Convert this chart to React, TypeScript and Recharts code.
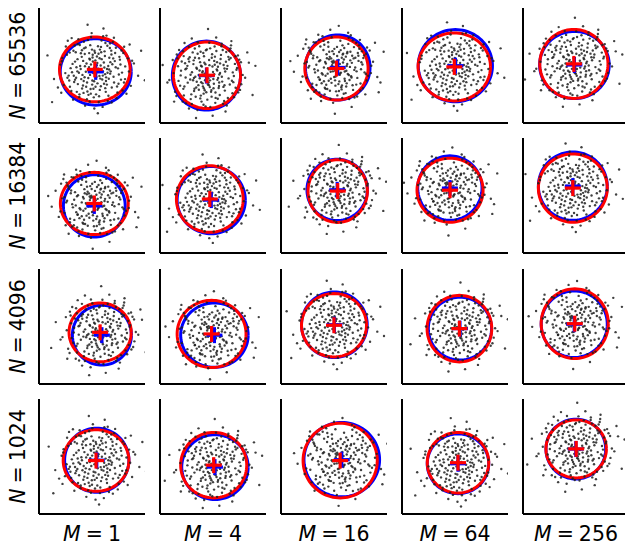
import { ComposedChart, Line, Scatter, XAxis, YAxis } from "recharts";

// grid labels
const M_VALUES = ["1", "4", "16", "64", "256"];
const N_VALUES = ["65536", "16384", "4096", "1024"];

// per panel (row-major, 4 rows x 5 cols): estimated ellipse (red) and true ellipse (blue)
const RED_CX = [0.16, -0.34, 0.14, -0.04, -0.12, 0.13, -0.18, 0.21, -0.28, -0.18, 0.46, -0.08, 0.0, 0.25, -0.07, 0.23, 0.04, 0.35, 0.17, 0.01];
const RED_CY = [-0.22, -0.55, -0.17, -0.08, 0.09, -0.45, -0.2, 0.25, 0.3, 0.42, -0.33, -0.42, 0.07, -0.12, 0.16, -0.23, -0.49, -0.23, -0.35, 0.43];
const RED_RX = [2.0, 1.9, 1.79, 2.05, 1.93, 1.92, 1.89, 1.68, 1.87, 1.95, 1.76, 1.95, 1.84, 1.83, 1.9, 1.86, 1.87, 2.1, 1.74, 1.71];
const RED_RY = [1.83, 1.88, 1.78, 1.92, 1.95, 1.76, 1.88, 1.77, 1.81, 1.93, 1.66, 1.9, 1.79, 1.88, 1.97, 1.74, 1.85, 2.11, 1.71, 1.64];
const BLUE_CX = [0.21, -0.37, 0.21, 0.02, -0.09, 0.13, -0.1, 0.18, -0.29, -0.18, 0.56, 0.08, 0.02, 0.28, -0.1, 0.27, 0.11, 0.44, 0.17, -0.01];
const BLUE_CY = [-0.36, -0.57, -0.11, -0.01, 0.03, -0.59, -0.26, 0.32, 0.42, 0.53, -0.49, -0.49, 0.1, -0.12, 0.13, -0.21, -0.6, -0.18, -0.41, 0.42];
const BLUE_RX = [2.01, 1.93, 1.83, 2.1, 1.97, 1.75, 1.93, 1.71, 1.82, 1.95, 1.67, 1.91, 1.86, 1.79, 1.87, 1.82, 1.88, 2.14, 1.74, 1.69];
const BLUE_RY = [1.88, 1.95, 1.84, 2.04, 1.9, 1.76, 1.9, 1.73, 1.82, 1.93, 1.69, 1.82, 1.85, 1.78, 1.88, 1.81, 1.83, 2.1, 1.69, 1.69];

// sample clouds (offsets from the sample mean), x,y pairs
const CLOUD_A = [
  0.31,-0.52, -1.12,0.44, 0.85,1.21, -0.23,-1.37, 1.54,-0.18, -0.67,-0.91, 0.12,0.73, -1.48,-0.35, 0.96,-1.02, -0.05,0.08,
  1.87,0.62, -0.39,1.66, 0.58,-0.27, -1.21,1.05, 0.22,-1.84, -0.83,0.19, 1.13,0.47, -0.14,-0.63, 0.47,1.88, -1.76,-0.88,
  0.69,0.02, -0.51,-0.13, 1.34,-0.81, -0.96,1.42, 0.04,-0.98, 2.21,0.34, -0.28,0.56, 0.77,-1.49, -1.33,-1.22, 0.36,0.97,
  -0.74,0.71, 1.02,1.55, -0.09,-0.21, 0.63,-0.66, -1.95,0.27, 0.18,1.31, -0.45,-1.69, 1.61,0.93, -1.06,-0.47, 0.9,-0.11,
  -0.32,0.92, 0.51,0.39, -1.58,0.83, 1.28,-1.31, -0.61,1.19, 0.07,-1.41, 0.82,0.66, -0.18,2.05, 1.71,-0.55, -0.88,-1.56,
  0.26,-0.37, -1.37,0.07, 0.44,-2.12, -0.02,1.05, 1.18,0.12, -0.7,-0.31, 0.6,1.49, -1.17,-0.71, 2.04,-0.93, -0.47,0.33,
  0.15,-0.79, -0.93,1.71, 1.45,0.28, -0.24,-1.11, 0.73,-1.78, -1.64,1.29, 0.39,0.58, -0.55,-2.05, 1.06,-0.42, -0.11,0.45,
  -1.29,-0.16, 0.94,0.84, -0.37,-0.49, 1.66,1.28, -0.8,0.02, 0.28,-1.16, -2.31,-0.54, 0.55,1.02, -0.15,-0.86, 1.23,-1.63,
  -0.62,1.56, 0.11,0.24, -1.02,-1.27, 0.87,-0.24, -0.26,1.37, 1.93,-0.12, -0.98,0.58, 0.42,-0.57, -1.45,-0.63, 0.66,1.91,
  2.62,1.05, -0.19,-0.02, 0.34,-0.95, -0.57,0.87, 1.39,0.71, -1.9,-1.32, 0.03,0.51, -0.72,-1.08, 1.09,-0.74, -0.33,0.13,
  0.49,2.31, -1.26,0.31, 0.79,-0.53, -0.06,-1.58, 1.51,1.07, -0.9,-0.19, 0.21,0.88, -0.44,-0.74, 2.45,-0.36, -1.53,1.62,
  0.62,-1.27, -0.13,0.67, 1.15,0.93, -0.77,-0.55, 0.33,0.22, -1.84,0.64, 0.95,-1.87, -0.21,1.83, 1.72,0.17, -0.64,-1.33,
  0.09,-0.43, -1.41,-0.98, 0.71,1.34, -0.35,-0.08, 1.36,-0.29, -1.08,0.97, 0.46,-0.12, -0.52,1.24, 0.17,-2.48, -2.68,0.79,
  0.88,0.41, -0.29,-1.82, 1.97,1.41, -1.19,-0.36, 0.57,0.76, -0.04,-0.67, 1.26,-0.97, -0.85,1.38, 0.29,1.12, -1.67,-0.21,
  0.99,0.29, -0.42,-1.25, 0.14,0.36, -0.96,-0.83, 1.57,-1.19, -0.31,0.61, 0.68,-0.86, -1.31,1.77, 2.11,0.49, -0.58,-0.44,
  0.38,1.63, -1.04,0.12, 0.81,-0.01, -0.16,1.12, 1.42,0.55, -2.09,-1.02, 0.24,-1.52, -0.66,0.48, 1.08,1.79, -0.27,-0.31,
  0.52,-0.81, -1.55,-0.47, 0.93,1.06, -0.08,-1.09, 1.65,-0.74, -0.79,0.91, 0.19,0.04, -1.23,-1.71, 0.76,0.19, -0.41,2.52,
  2.83,-0.61, -0.99,-0.11, 0.45,-0.35, -0.63,-0.66, 1.19,1.22, -1.86,0.46, 0.01,0.94, -0.36,-1.44, 1.31,0.06, -0.73,1.08,
  0.59,-1.06, -1.12,-0.58, 0.86,1.47, -0.22,0.28, 1.79,-1.38, -0.49,-0.98, 0.27,0.63, -1.42,0.95, 0.64,-0.45, -0.03,-2.21,
  -2.42,-1.85, 1.04,0.62, -0.56,0.18, 0.35,1.27, -0.87,-1.41, 1.48,-0.58, -0.12,0.83, 0.72,-0.19, -1.14,1.35, 0.54,0.11,
];
const CLOUD_B = [
  -0.42,0.27, 0.93,-0.66, -1.31,-1.14, 0.18,1.52, 1.67,0.31, -0.75,0.84, 0.36,-0.21, -0.08,-1.76, 1.21,1.04, -1.89,0.12,
  0.61,-1.33, -0.29,0.49, 0.05,-0.52, 1.44,-1.02, -1.03,1.61, 0.77,0.92, -0.58,-0.37, 2.16,-0.14, -0.17,1.07, 0.41,0.06,
  -1.52,-0.59, 0.99,0.38, -0.64,-1.22, 0.23,-0.94, 1.36,1.69, -0.93,0.03, 0.52,2.13, -1.24,0.68, 1.87,-0.83, -0.11,-0.28,
  0.69,-0.41, -0.36,1.33, 1.12,-1.71, -1.71,1.17, 0.14,0.57, -0.86,-1.62, 1.58,0.64, -0.47,0.02, 0.84,-0.09, -2.13,-0.27,
  0.29,1.19, -0.71,-0.76, 1.03,0.21, -0.19,-1.04, 0.47,-1.56, -1.16,0.39, 1.75,1.12, -0.52,1.86, 0.08,-0.17, 2.37,0.71,
  -1.38,-1.49, 0.57,0.74, -0.23,-0.63, 1.29,-0.52, -0.81,1.29, 0.32,-2.29, -1.64,0.51, 0.89,1.43, -0.02,0.34, 1.53,-1.24,
  -0.95,-0.24, 0.12,0.86, -0.38,-1.31, 1.16,0.53, -1.27,1.82, 0.66,-0.72, -0.6,0.42, 2.02,0.02, -0.13,-0.85, 0.43,1.62,
  -1.81,-0.93, 0.74,0.13, -0.45,0.96, 1.41,-0.31, -1.09,-0.42, 0.26,-1.21, -0.69,1.51, 0.97,-1.45, -0.27,0.15, 1.83,0.88,
  -1.47,0.26, 0.39,-0.48, -0.06,1.41, 1.09,1.31, -0.89,-1.08, 0.55,0.33, -2.51,0.58, 0.16,-0.67, 1.62,-0.71, -0.54,-1.97,
  0.83,1.78, -1.21,-0.13, 0.31,0.49, -0.33,-0.39, 1.25,0.89, -0.77,0.63, 0.02,-1.38, 2.58,-1.12, -1.58,1.43, 0.63,-0.15,
  -0.15,0.71, 1.01,-0.87, -1.34,-0.77, 0.45,1.05, -0.49,-0.56, 1.7,0.41, -0.98,1.02, 0.21,-0.06, -0.62,-2.42, 1.33,1.52,
  -1.94,0.86, 0.72,-1.12, -0.24,0.23, 0.94,0.58, -1.19,-1.59, 0.13,1.84, -0.41,-0.17, 1.52,-0.04, -0.73,-0.89, 0.37,-0.74,
  2.28,1.29, -1.05,0.92, 0.58,0.27, -0.21,1.26, 1.18,-1.29, -1.61,-0.32, 0.09,-0.41, -0.85,0.17, 0.79,1.15, -0.35,-1.15,
  1.46,0.16, -1.32,1.08, 0.48,-0.98, -0.09,0.62, 1.94,-0.51, -0.66,-0.09, 0.27,0.99, -2.24,-0.41, 0.86,-0.36, -0.44,1.64,
  1.07,0.76, -0.92,-1.35, 0.19,-1.79, -1.43,0.78, 0.62,0.48, -0.18,-0.74, 1.38,1.93, -0.57,0.37, 0.99,-0.57, -1.73,-1.17,
  0.34,0.18, -0.31,-1.49, 1.61,1.07, -1.11,0.53, 0.06,2.61, -0.79,-0.28, 1.22,-0.18, -0.04,-0.96, 0.53,1.37, -1.49,-0.01,
  0.91,-1.61, -2.77,-0.88, 0.41,0.81, -0.68,0.99, 1.77,-0.97, -0.25,-0.46, 0.74,0.67, -1.28,-0.64, 0.17,-0.29, -0.53,1.21,
  1.13,0.36, -0.86,2.08, 0.49,-1.28, -1.67,0.95, 2.74,0.53, -0.14,0.09, 0.68,-0.61, -1.02,-1.88, 1.34,0.97, -0.39,0.74,
  0.25,-0.84, -1.22,0.34, 0.82,1.64, -0.61,-0.69, 1.49,-0.39, -0.01,1.46, -1.86,-1.49, 0.59,-0.26, -0.34,0.54, 1.05,-2.05,
  -0.74,-0.16, 0.44,0.59, -1.36,1.36, 1.92,0.73, -0.2,-1.67, 0.7,0.04, -1.01,0.77, 0.11,-0.56, 1.27,1.38, -0.46,-0.82,
];
const CLOUD_C = [
  0.58,0.14, -0.94,-0.62, 1.27,1.31, -0.15,0.82, 0.41,-1.43, -1.68,0.37, 0.83,-0.44, -0.47,1.48, 1.95,-0.26, -0.33,-0.18,
  0.12,0.49, -1.26,-1.31, 0.69,1.74, -0.71,0.06, 1.49,-1.11, -0.06,-0.97, 0.97,0.57, -1.51,1.02, 0.25,-0.23, -0.87,-1.84,
  1.68,0.83, -0.21,0.31, 0.48,-0.71, -1.09,0.64, 0.03,1.22, 2.31,-0.48, -0.62,-0.41, 0.79,0.95, -1.92,-0.45, 0.33,-1.67,
  -0.41,0.95, 1.14,-0.16, -0.79,1.83, 0.18,-0.36, 1.52,0.59, -1.37,-0.86, 0.61,0.26, -0.02,-1.29, 0.91,-0.95, -0.54,0.58,
  1.33,1.62, -1.14,0.21, 0.35,0.79, -0.28,-0.81, 2.07,0.38, -0.91,1.24, 0.09,-0.05, -1.62,-1.23, 0.72,-1.72, -0.35,2.19,
  1.06,0.06, -0.66,-1.09, 0.44,1.16, -1.43,0.83, 1.71,-0.68, -0.17,0.44, 0.64,-0.31, -2.19,0.72, 0.27,-1.06, -0.83,-0.27,
  1.21,0.88, -0.46,1.23, 0.05,-1.52, 1.59,-0.22, -1.02,-0.49, 0.53,0.67, -0.25,0.19, 0.86,-2.17, -1.29,1.49, 1.88,1.02,
  -0.71,-0.72, 0.37,0.34, -0.13,-0.48, 1.11,1.45, -1.59,0.06, 0.22,1.57, -0.97,-1.36, 1.36,-0.85, -0.38,0.66, 0.76,0.09,
  2.49,-0.79, -0.52,-1.16, 0.15,0.93, -1.21,-0.22, 0.99,1.21, -0.08,-0.67, 0.56,-0.13, -1.75,1.38, 1.25,0.43, -0.6,0.28,
  0.31,-0.96, -0.27,1.77, 1.63,-1.46, -0.92,0.47, 0.08,0.18, -1.45,-1.71, 0.89,0.72, -0.43,-0.04, 1.44,0.97, -2.41,-0.18,
  0.46,-0.58, -0.74,1.05, 1.18,-0.53, -0.19,-1.94, 0.67,1.39, -1.13,-0.93, 1.97,0.16, -0.56,0.81, 0.21,-0.28, -0.99,1.63,
  0.94,-1.21, -1.81,0.29, 0.42,0.51, -0.32,-0.58, 1.39,-0.04, -0.67,-1.47, 0.13,2.41, 2.67,0.95, -1.33,0.58, 0.58,-0.84,
  -0.11,0.35, 0.81,1.88, -1.05,-0.11, 0.29,-1.18, 1.56,0.74, -0.48,0.02, 0.7,-0.37, -1.57,1.18, 1.02,-1.64, -0.23,0.98,
  -0.84,-0.83, 0.4,0.07, -2.01,-0.76, 1.29,1.12, -0.37,-1.26, 0.6,0.86, -1.18,1.47, 0.16,-0.73, 1.8,-0.41, -0.64,0.37,
  0.87,0.32, -0.09,-2.56, 1.12,-0.91, -1.47,0.94, 0.34,1.31, -0.78,-0.34, 2.18,1.46, -0.3,0.57, 0.52,-1.39, -1.69,-0.52,
  0.04,0.71, -0.58,-0.92, 1.47,0.23, -1.03,1.91, 0.74,-0.65, -0.2,-0.16, 1.07,0.61, -2.61,0.42, 0.24,1.04, -0.89,-1.58,
  1.66,-0.31, -0.42,0.52, 0.55,-1.02, -1.25,-0.04, 0.92,1.59, -0.05,-0.45, 1.35,-1.24, -0.69,1.34, 0.19,0.26, -1.38,-1.06,
  0.78,0.46, -0.34,-1.71, 1.24,0.72, -1.88,1.12, 0.47,-0.17, -0.12,1.11, 2.39,-1.34, -0.95,-0.64, 0.62,0.93, -0.5,-0.29,
  0.14,-1.27, -1.31,0.73, 1.01,-0.08, -0.26,0.39, 0.85,-0.51, -0.73,1.56, 1.73,1.19, -1.16,-1.23, 0.3,0.61, -0.44,-0.69,
  0.66,2.02, -1.54,0.15, 1.17,-1.58, -0.07,-0.12, 0.38,0.84, -0.98,0.41, 1.41,0.35, -0.62,-1.15, 0.11,-0.88, -1.71,1.64,
];
const CLOUDS = [CLOUD_A, CLOUD_B, CLOUD_C];

// layout
const COL_LEFT = [39, 160, 281, 402, 523];
const ROW_TOP = [8, 138, 269, 399];
const PW = 106;
const PH = 115;
const X_DOMAIN: [number, number] = [-3, 3];
const Y_DOMAIN: [number, number] = [-3.25, 3.25];
const FONT = "DejaVu Sans, sans-serif";

function ellipsePts(cx: number, cy: number, rx: number, ry: number) {
  const pts: { x: number; y: number }[] = [];
  for (let i = 0; i <= 96; i++) {
    const t = (i / 96) * Math.PI * 2;
    pts.push({ x: cx + rx * Math.cos(t), y: cy + ry * Math.sin(t) });
  }
  return pts;
}

const crossShape = (color: string) => (props: { cx?: number; cy?: number }) => {
  const { cx, cy } = props;
  if (cx == null || cy == null) return <g />;
  return (
    <g>
      <line x1={cx - 8} x2={cx + 8} y1={cy} y2={cy} stroke={color} strokeWidth={3.2} />
      <line x1={cx} x2={cx} y1={cy - 8} y2={cy + 8} stroke={color} strokeWidth={3.2} />
    </g>
  );
};

const dotShape = (props: { cx?: number; cy?: number }) => {
  const { cx, cy } = props;
  if (cx == null || cy == null) return <g />;
  return <circle cx={cx} cy={cy} r={1.2} fill="#1e1e1e" fillOpacity={0.85} />;
};

function Panel({ row, col }: { row: number; col: number }) {
  const i = row * 5 + col;
  const cloud = CLOUDS[i % 3];
  const pts: { x: number; y: number }[] = [];
  for (let k = 0; k < cloud.length; k += 2) {
    pts.push({ x: RED_CX[i] + cloud[k], y: RED_CY[i] + cloud[k + 1] });
  }
  const blue = ellipsePts(BLUE_CX[i], BLUE_CY[i], BLUE_RX[i], BLUE_RY[i]);
  const red = ellipsePts(RED_CX[i], RED_CY[i], RED_RX[i], RED_RY[i]);
  return (
    <div style={{ position: "absolute", left: COL_LEFT[col] - 2, top: ROW_TOP[row] - 2 }}>
      <ComposedChart width={PW + 4} height={PH + 4} margin={{ top: 2, right: 2, bottom: 1, left: 1 }}>
        <XAxis
          type="number"
          dataKey="x"
          domain={X_DOMAIN}
          allowDataOverflow
          tick={false}
          tickLine={false}
          height={1}
          axisLine={{ stroke: "#000", strokeWidth: 2 }}
        />
        <YAxis
          type="number"
          dataKey="y"
          domain={Y_DOMAIN}
          allowDataOverflow
          tick={false}
          tickLine={false}
          width={1}
          axisLine={{ stroke: "#000", strokeWidth: 2 }}
        />
        <Scatter data={pts} shape={dotShape} isAnimationActive={false} />
        <Line data={blue} dataKey="y" type="linear" stroke="#0000ff" strokeWidth={3} dot={false} activeDot={false} isAnimationActive={false} />
        <Scatter data={[{ x: BLUE_CX[i], y: BLUE_CY[i] }]} shape={crossShape("#0000ff")} isAnimationActive={false} />
        <Line data={red} dataKey="y" type="linear" stroke="#ff0000" strokeWidth={3} dot={false} activeDot={false} isAnimationActive={false} />
        <Scatter data={[{ x: RED_CX[i], y: RED_CY[i] }]} shape={crossShape("#ff0000")} isAnimationActive={false} />
      </ComposedChart>
    </div>
  );
}

export default function App() {
  return (
    <div style={{ position: "absolute", left: 0, top: 0, width: 625, height: 545, background: "#fff" }}>
      {N_VALUES.map((_, r) => M_VALUES.map((__, c) => <Panel key={`${r}-${c}`} row={r} col={c} />))}
      <svg width={625} height={545} style={{ position: "absolute", left: 0, top: 0, pointerEvents: "none" }}>
        {N_VALUES.map((n, r) => (
          <text
            key={n}
            transform={`translate(25, ${ROW_TOP[r] + PH / 2}) rotate(-90)`}
            textAnchor="middle"
            fontFamily={FONT}
            fontSize={20.5}
            fill="#000"
          >
            <tspan fontStyle="italic">N</tspan>
            <tspan dx={5}>=</tspan>
            <tspan dx={5}>{n}</tspan>
          </text>
        ))}
        {M_VALUES.map((m, c) => (
          <text key={m} x={COL_LEFT[c] + PW / 2} y={541} textAnchor="middle" fontFamily={FONT} fontSize={20.5} fill="#000">
            <tspan fontStyle="italic">M</tspan>
            <tspan dx={5}>=</tspan>
            <tspan dx={5}>{m}</tspan>
          </text>
        ))}
      </svg>
    </div>
  );
}
